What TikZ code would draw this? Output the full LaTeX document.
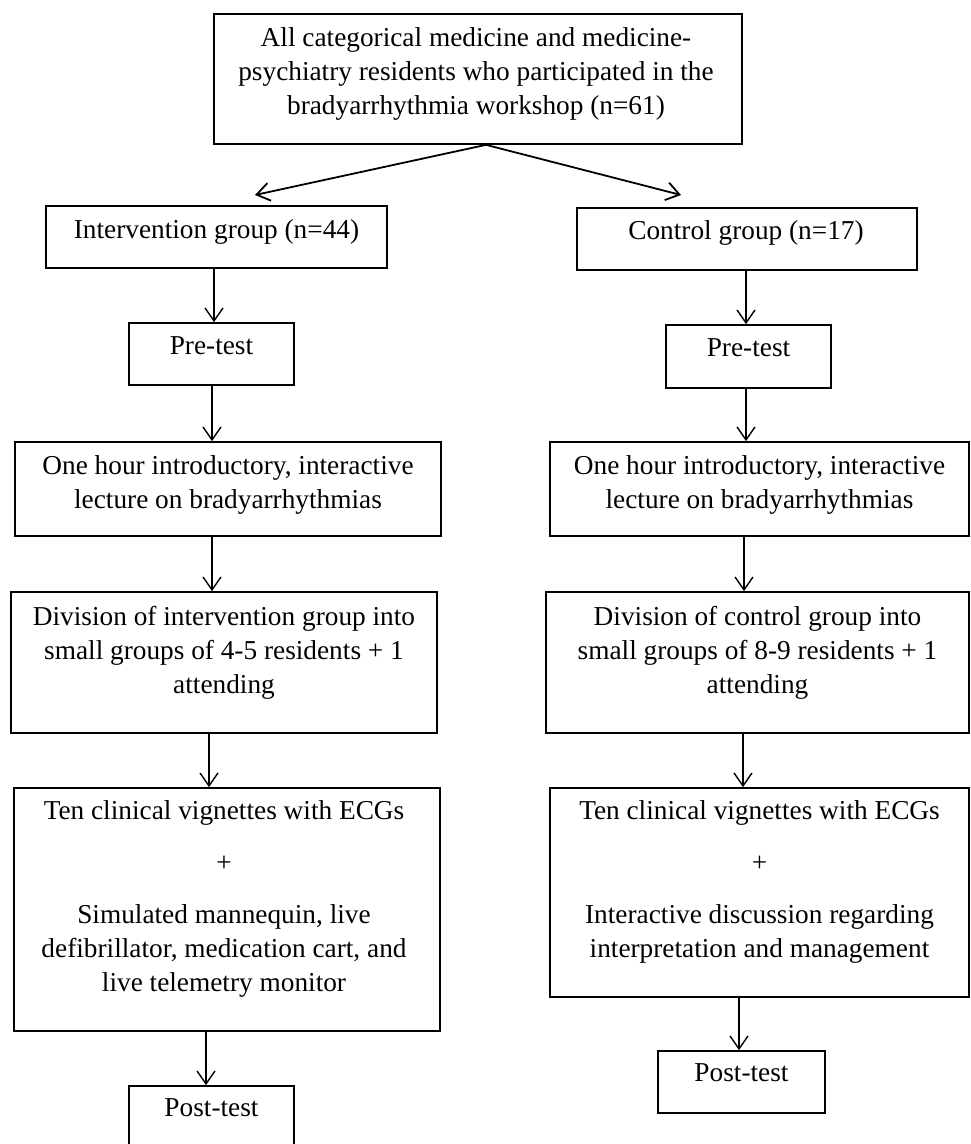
\documentclass[tikz,border=0pt]{standalone}
\usepackage{fontspec}
\setmainfont{Liberation Serif}
\usetikzlibrary{arrows.meta,calc}
\begin{document}
\begin{tikzpicture}[x=1pt,y=-1pt,
  box/.style={draw, line width=1.7pt, inner sep=0pt, minimum width=#1},
  txt/.style={align=center, anchor=north, inner sep=0pt, font=\fontsize{27.3}{34}\selectfont},
  arr/.style={line width=1.4pt, -{Straight Barb[length=13pt,width=18pt]}},
  diag/.style={arr, line width=1.8pt}]
\useasboundingbox (0,0) rectangle (971,1144);
\clip (0,0) rectangle (971,1144);
% boxes
\node[box=528, minimum height=130] (top) at (478,79) {};
\node[box=341, minimum height=62] (int) at (216.5,237) {};
\node[box=340, minimum height=62] (ctl) at (747,239) {};
\node[box=165, minimum height=62] (preL) at (211.5,354) {};
\node[box=165, minimum height=63] (preR) at (748.5,356.5) {};
\node[box=426, minimum height=94] (lecL) at (228,489) {};
\node[box=419, minimum height=94] (lecR) at (759.5,489) {};
\node[box=426, minimum height=141] (divL) at (224,662.5) {};
\node[box=423, minimum height=141] (divR) at (757.5,662.5) {};
\node[box=426, minimum height=243] (tenL) at (227,909.5) {};
\node[box=419, minimum height=209] (tenR) at (759.5,892.5) {};
\node[box=165, minimum height=62] (postL) at (211.5,1117) {};
\node[box=167, minimum height=62] (postR) at (741.5,1082) {};
% texts
\node[txt] (ttop) at (476,22.5) {\strut All categorical medicine and medicine-\\psychiatry residents who participated in the\\bradyarrhythmia workshop (n=61)};
\node[txt] (tint) at (216.5,214.5) {\strut Intervention group (n=44)};
\node[txt] (tctl) at (746,215.5) {\strut Control group (n=17)};
\node[txt] (tpreL) at (211.5,330.5) {\strut Pre-test};
\node[txt] (tpreR) at (748.5,332.5) {\strut Pre-test};
\node[txt] (tlecL) at (228,450.5) {\strut One hour introductory, interactive\\lecture on bradyarrhythmias};
\node[txt] (tlecR) at (759.5,450.5) {\strut One hour introductory, interactive\\lecture on bradyarrhythmias};
\node[txt] (tdivL) at (224,601.5) {\strut Division of intervention group into\\small groups of 4-5 residents + 1\\attending};
\node[txt] (tdivR) at (757.5,601.5) {\strut Division of control group into\\small groups of 8-9 residents + 1\\attending};
\node[txt] (ttenL) at (224,795.5) {\strut Ten clinical vignettes with ECGs\\[18pt]+\\[18pt]Simulated mannequin, live\\defibrillator, medication cart, and\\live telemetry monitor};
\node[txt] (ttenR) at (759.5,795.5) {\strut Ten clinical vignettes with ECGs\\[18pt]+\\[18pt]Interactive discussion regarding\\interpretation and management};
\node[txt] (tpostL) at (211.5,1092.5) {\strut Post-test};
\node[txt] (tpostR) at (741.5,1057.5) {\strut Post-test};
% connectors
\coordinate (split) at ([xshift=8pt]top.south);
\coordinate (tipL) at (255,195);
\coordinate (tipR) at (681,195);
\draw[diag] (split) -- (tipL);
\draw[diag] (split) -- (tipR);
\draw[arr] ([xshift=-2.5pt]int.south) -- ([xshift=-2.5pt]int.south |- preL.north);
\draw[arr] ([xshift=0.5pt]preL.south) -- ([xshift=0.5pt]preL.south |- lecL.north);
\draw[arr] ([xshift=-16pt]lecL.south) -- ([xshift=-16pt]lecL.south |- divL.north);
\draw[arr] ([xshift=-15pt]divL.south) -- ([xshift=-15pt]divL.south |- tenL.north);
\draw[arr] ([xshift=-21pt]tenL.south) -- ([xshift=-21pt]tenL.south |- postL.north);
\draw[arr] ([xshift=-1pt]ctl.south) -- ([xshift=-1pt]ctl.south |- preR.north);
\draw[arr] ([xshift=-2.5pt]preR.south) -- ([xshift=-2.5pt]preR.south |- lecR.north);
\draw[arr] ([xshift=-15.5pt]lecR.south) -- ([xshift=-15.5pt]lecR.south |- divR.north);
\draw[arr] ([xshift=-14.5pt]divR.south) -- ([xshift=-14.5pt]divR.south |- tenR.north);
\draw[arr] ([xshift=-20.5pt]tenR.south) -- ([xshift=-20.5pt]tenR.south |- postR.north);
\end{tikzpicture}
\end{document}
